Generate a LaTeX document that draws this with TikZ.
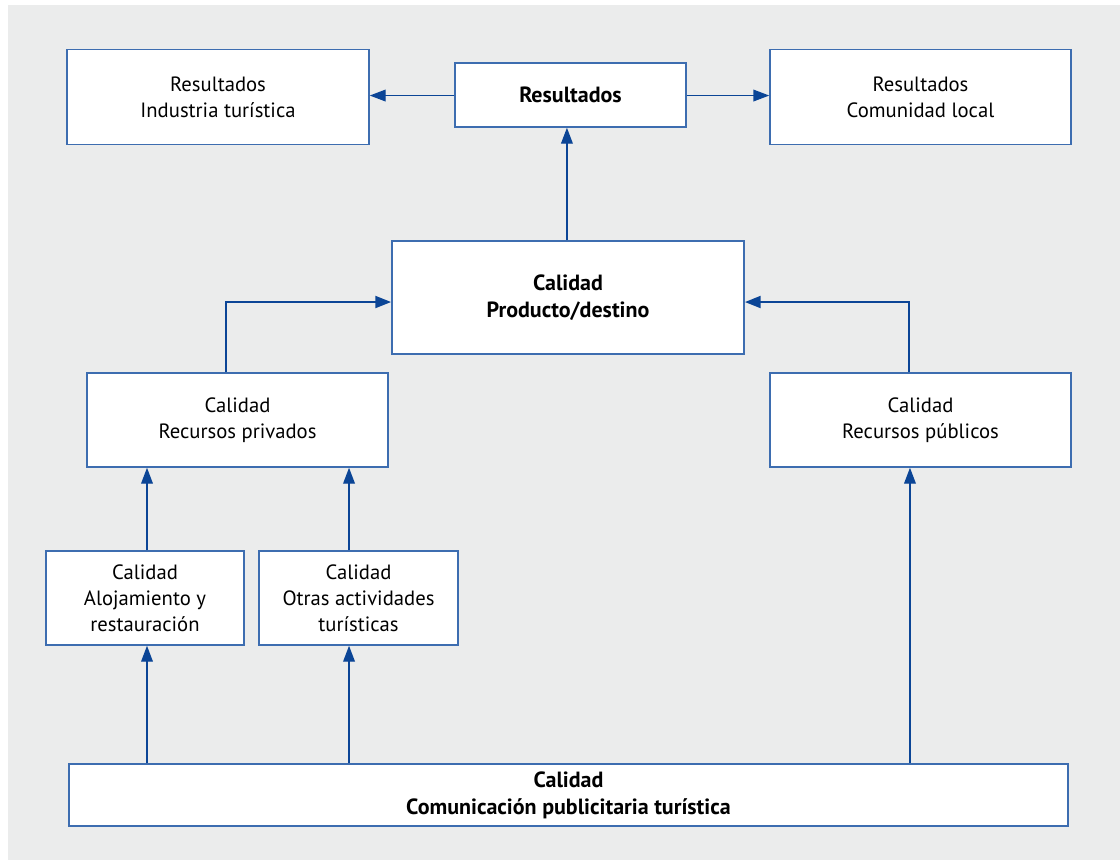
\documentclass[tikz,border=0pt]{standalone}
\usepackage{fontspec}
\setmainfont{PT Sans}
\usetikzlibrary{arrows.meta}
\definecolor{bgc}{HTML}{EBECEC}
\definecolor{boxc}{HTML}{3D6DB0}
\definecolor{arrc}{HTML}{0B4596}
\begin{document}
\begin{tikzpicture}[x=0.75pt,y=-0.75pt,
  box/.style={draw=boxc,fill=white,line width=1.1pt,align=center,inner sep=0pt,
    font=\fontsize{15.5}{19.5}\selectfont},
  bbox/.style={box,font=\fontsize{16.5}{20.5}\selectfont\bfseries},
  conn/.style={draw=arrc,line width=1.1pt,-{Triangle[length=12pt,width=8.8pt]}},
  tconn/.style={draw=arrc,line width=2.1pt,-{Triangle[length=12pt,width=8.8pt]}}]
\fill[white] (0,0) rectangle (1120,860);
\fill[bgc] (8,5) rectangle (1120,860);
\useasboundingbox (0,0) rectangle (1120,860);

\node[box,minimum width=226.5pt,minimum height=71.25pt] (ind) at (218,97) {Resultados\\Industria turística};
\node[bbox,minimum width=173.25pt,minimum height=48pt] (res) at (570.5,95) {Resultados};
\node[box,minimum width=225.75pt,minimum height=71.25pt] (com) at (920.5,97) {Resultados\\Comunidad local};
\node[bbox,minimum width=264pt,minimum height=84.75pt] (prod) at (568,297.5) {Calidad\\Producto/destino};
\node[box,minimum width=225.75pt,minimum height=70.5pt] (priv) at (237.5,420) {Calidad\\Recursos privados};
\node[box,minimum width=225.75pt,minimum height=70.5pt] (pub) at (920.5,420) {Calidad\\Recursos públicos};
\node[box,minimum width=148.5pt,minimum height=70.5pt] (alo) at (145,598) {Calidad\\Alojamiento y\\restauración};
\node[box,minimum width=149.25pt,minimum height=70.5pt] (otr) at (358.5,598) {Calidad\\Otras actividades\\turísticas};
\node[bbox,minimum width=749.25pt,minimum height=46.5pt] (cpt) at (568.5,795) {Calidad\\Comunicación publicitaria turística};

\draw[conn] ([yshift=-0.4pt]res.west) -- ([yshift=-0.4pt]res.west -| ind.east);
\draw[conn] ([yshift=-0.4pt]res.east) -- ([yshift=-0.4pt]res.east -| com.west);
\draw[conn] ([xshift=-0.8pt]prod.north) -- ([xshift=-0.8pt]prod.north |- res.south);
\draw[tconn] ([xshift=-8.6pt]priv.north) |- ([yshift=-3.4pt]prod.west);
\draw[tconn] ([xshift=-8.6pt]pub.north) |- ([yshift=-3.4pt]prod.east);
\draw[conn] ([xshift=1.5pt]alo.north) -- ([xshift=1.5pt]alo.north |- priv.south);
\draw[conn] ([xshift=-7.1pt]otr.north) -- ([xshift=-7.1pt]otr.north |- priv.south);
\draw[conn] ([xshift=1.5pt]alo.south |- cpt.north) -- ([xshift=1.5pt]alo.south);
\draw[conn] ([xshift=-7.1pt]otr.south |- cpt.north) -- ([xshift=-7.1pt]otr.south);
\draw[conn] ([xshift=-7.9pt]pub.south |- cpt.north) -- ([xshift=-7.9pt]pub.south);
\end{tikzpicture}
\end{document}
